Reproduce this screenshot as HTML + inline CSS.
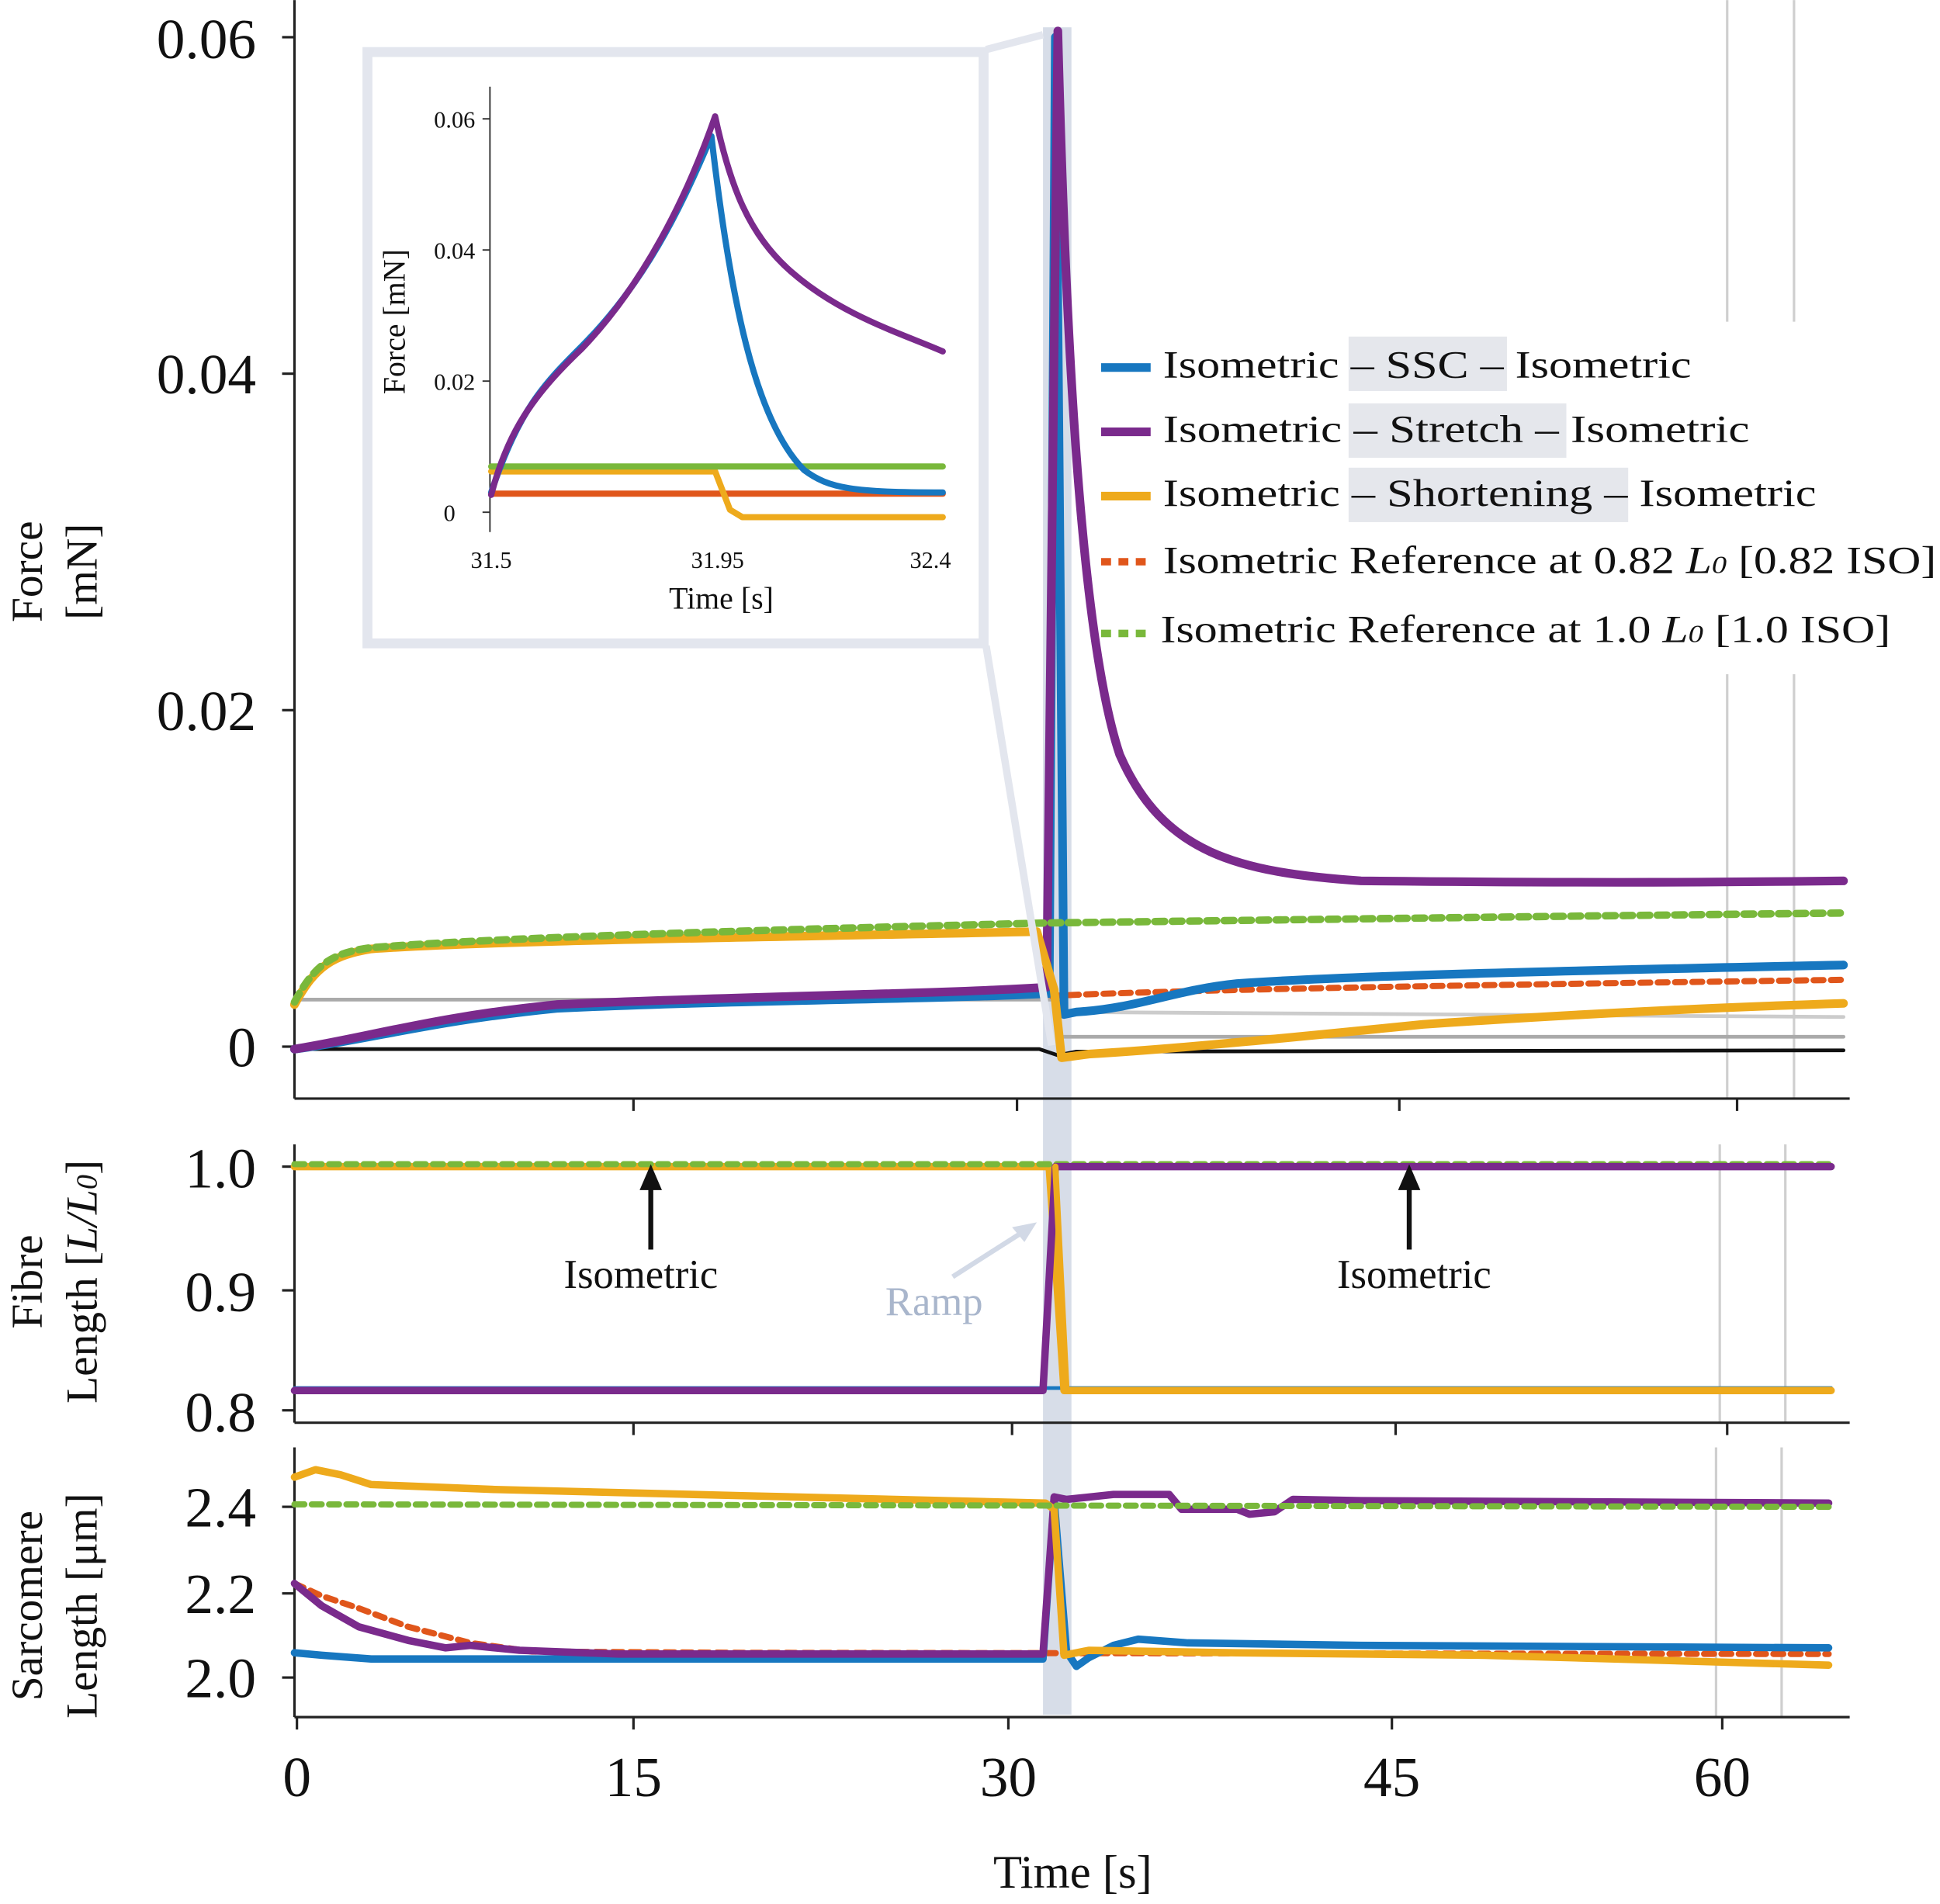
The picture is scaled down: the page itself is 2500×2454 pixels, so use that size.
<!DOCTYPE html>
<html><head><meta charset="utf-8"><style>
html,body{margin:0;padding:0;background:#fff}
svg{display:block}
text{font-family:"Liberation Serif",serif;fill:#111}
</style></head><body>
<svg width="2500" height="2454" viewBox="0 0 1568 1539" xmlns="http://www.w3.org/2000/svg">
<rect x="843" y="22" width="23" height="1364" fill="#d7dde8"/>
<g stroke="#cfcfcf" stroke-width="2">
<line x1="1396" y1="0" x2="1396" y2="260"/><line x1="1450" y1="0" x2="1450" y2="260"/>
<line x1="1396" y1="545" x2="1396" y2="888"/><line x1="1450" y1="545" x2="1450" y2="888"/>
<line x1="1390" y1="925" x2="1390" y2="1150"/><line x1="1443" y1="925" x2="1443" y2="1150"/>
<line x1="1387" y1="1170" x2="1387" y2="1388"/><line x1="1440" y1="1170" x2="1440" y2="1388"/>
</g>
<g stroke="#222" stroke-width="2" fill="none">
<line x1="238" y1="0" x2="238" y2="888"/><line x1="238" y1="888" x2="1495" y2="888"/>
<line x1="238" y1="925" x2="238" y2="1150"/><line x1="238" y1="1150" x2="1495" y2="1150"/>
<line x1="238" y1="1170" x2="238" y2="1388"/><line x1="238" y1="1388" x2="1495" y2="1388"/>
<line x1="228" y1="30" x2="238" y2="30"/><line x1="228" y1="302" x2="238" y2="302"/><line x1="228" y1="574" x2="238" y2="574"/><line x1="228" y1="846" x2="238" y2="846"/>
<line x1="228" y1="943" x2="238" y2="943"/><line x1="228" y1="1043" x2="238" y2="1043"/><line x1="228" y1="1140" x2="238" y2="1140"/>
<line x1="228" y1="1218" x2="238" y2="1218"/><line x1="228" y1="1288" x2="238" y2="1288"/><line x1="228" y1="1356" x2="238" y2="1356"/>
<path d="M512 888v10M822 888v10M1131 888v10M1404 888v10"/>
<path d="M512 1150v10M818 1150v10M1128 1150v10M1396 1150v10"/>
<path d="M240 1388v10M512 1388v10M815 1388v10M1125 1388v10M1392 1388v10"/>
</g>
<g font-size="46" text-anchor="end">
<text x="207" y="47">0.06</text><text x="207" y="318">0.04</text><text x="207" y="590">0.02</text><text x="207" y="862">0</text>
<text x="207" y="960">1.0</text><text x="207" y="1060">0.9</text><text x="207" y="1157">0.8</text>
<text x="207" y="1234">2.4</text><text x="207" y="1304">2.2</text><text x="207" y="1372">2.0</text>
</g>
<g font-size="46" text-anchor="middle">
<text x="240" y="1452">0</text><text x="512" y="1452">15</text><text x="815" y="1452">30</text><text x="1125" y="1452">45</text><text x="1392" y="1452">60</text>
<text x="867" y="1526" font-size="38">Time [s]</text>
</g>
<g font-size="36" text-anchor="middle">
<text transform="translate(34,462) rotate(-90)">Force</text>
<text transform="translate(78,462) rotate(-90)">[mN]</text>
<text transform="translate(34,1036) rotate(-90)">Fibre</text>
<text transform="translate(78,1036) rotate(-90)">Length [<tspan font-style="italic">L/L</tspan><tspan font-style="italic" font-size="24">0</tspan>]</text>
<text transform="translate(34,1298) rotate(-90)">Sarcomere</text>
<text transform="translate(78,1298) rotate(-90)">Length [μm]</text>
</g>
<g fill="none" stroke-linecap="round" stroke-linejoin="round">
<path d="M238 848L840 848L855 853L870 850L1490 849" stroke="#111" stroke-width="3"/>
<path d="M238 808L850 808M860 838L1490 838" stroke="#aaa" stroke-width="3"/>
<path d="M860 818L1490 822" stroke="#ccc" stroke-width="3"/>
<path d="M850 805C950 800 1200 796 1490 792" stroke="#e0561b" stroke-width="5" stroke-dasharray="8 6"/>
<path d="M238 848C300 840 350 825 450 815C600 808 750 808 848 803L853 30L860 820L870 818C920 815 950 800 1000 795C1100 788 1300 784 1490 780" stroke="#1777c0" stroke-width="7"/>
<path d="M238 848C300 838 350 822 450 812C600 805 750 804 846 798L855 25C862 300 875 520 905 610C940 690 1000 705 1100 712C1300 714 1400 713 1490 712" stroke="#7a2a8c" stroke-width="7"/>
<path d="M238 812C255 780 270 772 300 767C400 760 600 758 838 753L852 800L858 855L880 852C950 848 1050 838 1150 828C1300 818 1400 814 1490 811" stroke="#eeaa1c" stroke-width="7"/>
<path d="M238 810C255 778 270 770 300 766C400 758 600 752 848 746C1000 744 1300 740 1490 738" stroke="#79b83b" stroke-width="6" stroke-dasharray="8 6"/>
</g>
<line x1="797" y1="40" x2="843" y2="28" stroke="#e3e6ee" stroke-width="6"/>
<line x1="797" y1="522" x2="850" y2="845" stroke="#e3e6ee" stroke-width="6"/>
<rect x="297" y="42" width="498" height="478" fill="#fff" stroke="#e3e6ee" stroke-width="8"/>
<g stroke="#333" stroke-width="1.2">
<line x1="396" y1="70" x2="396" y2="430"/>
<line x1="390" y1="96" x2="396" y2="96"/><line x1="390" y1="202" x2="396" y2="202"/><line x1="390" y1="308" x2="396" y2="308"/><line x1="390" y1="414" x2="396" y2="414"/>
</g>
<g font-size="19" text-anchor="end"><text x="384" y="103">0.06</text><text x="384" y="209">0.04</text><text x="384" y="315">0.02</text><text x="368" y="421">0</text></g>
<g font-size="19" text-anchor="middle"><text x="397" y="459">31.5</text><text x="580" y="459">31.95</text><text x="752" y="459">32.4</text>
<text x="583" y="492" font-size="25">Time [s]</text>
<text transform="translate(327,260) rotate(-90)" font-size="25">Force [mN]</text></g>
<g fill="none" stroke-linecap="round" stroke-linejoin="round" stroke-width="5">
<path d="M397 399L762 399" stroke="#e0561b"/>
<path d="M397 381L578 381L590 412L600 418L762 418" stroke="#eeaa1c"/>
<path d="M397 377L762 377" stroke="#79b83b"/>
<path d="M397 398C420 330 440 310 470 280C520 230 550 170 575 110C590 240 610 340 650 380C670 395 690 398 762 398" stroke="#1777c0"/>
<path d="M397 400C410 350 430 320 470 282C520 230 555 160 578 94C590 150 605 190 640 220C680 255 730 270 762 284" stroke="#7a2a8c"/>
</g>
<g font-size="31">
<rect x="1090" y="272" width="128" height="44" fill="#e5e7ec"/>
<rect x="1090" y="326" width="176" height="44" fill="#e5e7ec"/>
<rect x="1090" y="378" width="226" height="44" fill="#e5e7ec"/>
<line x1="890" y1="297" x2="930" y2="297" stroke="#1777c0" stroke-width="7"/>
<line x1="890" y1="349" x2="930" y2="349" stroke="#7a2a8c" stroke-width="7"/>
<line x1="890" y1="401" x2="930" y2="401" stroke="#eeaa1c" stroke-width="7"/>
<line x1="890" y1="454" x2="930" y2="454" stroke="#e0561b" stroke-width="6" stroke-dasharray="8 6"/>
<line x1="890" y1="512" x2="930" y2="512" stroke="#79b83b" stroke-width="6" stroke-dasharray="8 6"/>
<text x="940" y="305" textLength="427" lengthAdjust="spacingAndGlyphs">Isometric  &#8211; SSC &#8211; Isometric</text>
<text x="940" y="357" textLength="474" lengthAdjust="spacingAndGlyphs">Isometric  &#8211; Stretch  &#8211; Isometric</text>
<text x="940" y="409" textLength="528" lengthAdjust="spacingAndGlyphs">Isometric  &#8211; Shortening &#8211; Isometric</text>
<text x="940" y="463" textLength="625" lengthAdjust="spacingAndGlyphs">Isometric Reference at 0.82 <tspan font-style="italic">L</tspan><tspan font-style="italic" font-size="20">0</tspan> [0.82 ISO]</text>
<text x="938" y="519" textLength="590" lengthAdjust="spacingAndGlyphs">Isometric Reference at 1.0 <tspan font-style="italic">L</tspan><tspan font-style="italic" font-size="20">0</tspan> [1.0 ISO]</text>
</g>
<g fill="none" stroke-linecap="round" stroke-linejoin="round">
<path d="M238 1122L1480 1122" stroke="#1777c0" stroke-width="3"/>
<path d="M238 943L848 943L860 1124L1480 1124" stroke="#eeaa1c" stroke-width="6"/>
<path d="M238 941L1480 941" stroke="#79b83b" stroke-width="5" stroke-dasharray="8 6"/>
<path d="M238 1124L843 1124L853 943L1480 943" stroke="#7a2a8c" stroke-width="6"/>
<path d="M853 943L862 1124" stroke="#eeaa1c" stroke-width="5"/>
</g>
<g stroke="#111" stroke-width="4"><line x1="526" y1="1010" x2="526" y2="955"/><line x1="1139" y1="1010" x2="1139" y2="955"/></g>
<polygon points="526,941 517,962 535,962" fill="#111"/><polygon points="1139,941 1130,962 1148,962" fill="#111"/>
<text x="518" y="1041" font-size="33" text-anchor="middle">Isometric</text>
<text x="1143" y="1041" font-size="33" text-anchor="middle">Isometric</text>
<text x="755" y="1063" font-size="33" text-anchor="middle" style="fill:#a9b6cc">Ramp</text>
<line x1="770" y1="1032" x2="828" y2="995" stroke="#d2d9e6" stroke-width="4"/>
<polygon points="838,988 818,992 828,1004" fill="#d2d9e6"/>
<g fill="none" stroke-linecap="round" stroke-linejoin="round" stroke-width="6">
<path d="M238 1280L260 1290L290 1300L330 1315L380 1328L430 1335L600 1336L1478 1337" stroke="#e0561b" stroke-width="5" stroke-dasharray="8 6"/>
<path d="M238 1336L260 1338L300 1341L843 1341L852 1212L862 1335L870 1347L880 1340L900 1330L920 1325L960 1328L1100 1330L1478 1332" stroke="#1777c0"/>
<path d="M238 1280L260 1298L290 1315L330 1326L360 1332L380 1330L420 1334L500 1337L843 1337L852 1210L862 1212L900 1208L945 1208L955 1220L1000 1220L1010 1224L1030 1222L1045 1212L1100 1213L1478 1215" stroke="#7a2a8c"/>
<path d="M238 1194L255 1188L275 1192L300 1200L400 1204L600 1209L845 1215L852 1220L860 1338L880 1334L1000 1336L1200 1338L1478 1346" stroke="#eeaa1c"/>
<path d="M238 1216L1478 1218" stroke="#79b83b" stroke-width="5" stroke-dasharray="8 6"/>
</g>
</svg>
</body></html>
